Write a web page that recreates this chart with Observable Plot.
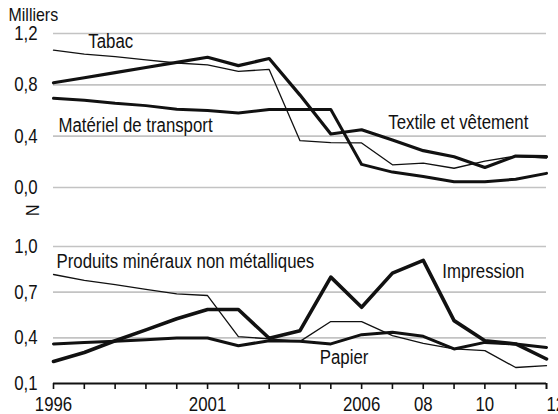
<!DOCTYPE html>
<html>
<head>
<meta charset="utf-8">
<script src="https://cdn.jsdelivr.net/npm/d3@7"></script>
<script src="https://cdn.jsdelivr.net/npm/@observablehq/plot@0.6"></script>
<style>
  html, body { margin: 0; padding: 0; background: #fff; }
  #chart { position: relative; width: 558px; height: 414px; overflow: hidden; }
  #top, #bottom { position: absolute; left: 0; }
  #top { top: 0; }
  #bottom { top: 215px; }
</style>
</head>
<body>
<div id="chart"><div id="top"></div><div id="bottom"></div></div>
<script>
// ---- Data ----
const years = [1996,1997,1998,1999,2000,2001,2002,2003,2004,2005,2006,2007,2008,2009,2010,2011,2012];

// Top panel (milliers)
const tabac     = [1.07,1.04,1.02,0.995,0.97,0.955,0.905,0.92,0.365,0.35,0.347,0.177,0.19,0.15,0.205,0.245,0.23];
const textile   = [0.816,0.855,0.895,0.935,0.975,1.015,0.95,1.005,0.72,0.417,0.45,0.37,0.287,0.24,0.156,0.245,0.24];
const transport = [0.695,0.68,0.656,0.638,0.61,0.6,0.58,0.607,0.607,0.607,0.18,0.12,0.086,0.045,0.045,0.065,0.11];

// Bottom panel (milliers)
const mineraux   = [0.816,0.777,0.749,0.718,0.689,0.678,0.408,0.393,0.377,0.507,0.507,0.414,0.364,0.327,0.316,0.205,0.217];
const impression = [0.245,0.304,0.381,0.452,0.525,0.586,0.586,0.397,0.447,0.799,0.601,0.825,0.909,0.513,0.381,0.36,0.261];
const papier     = [0.36,0.37,0.377,0.388,0.399,0.399,0.348,0.381,0.377,0.36,0.421,0.436,0.41,0.327,0.37,0.36,0.337];

// Tick values and labels
const topTicks = [0, 0.4, 0.8, 1.2];
const bottomTicks = [0.1, 0.4, 0.7, 1.0];
const bottomGrid = [0.4, 0.7, 1.0];
const xTickYears = [1996, 2001, 2006, 2008, 2010, 2012];
const xTickLabels = ["1996", "2001", "2006", "08", "10", "12"];
const unitLabel = "Milliers";
const breakSymbol = "N";

// Series label texts
const seriesNames = ["Tabac", "Matériel de transport", "Textile et vêtement",
                     "Produits minéraux non métalliques", "Impression", "Papier"];

// ---- Drawing ----
const font = '"Liberation Sans Narrow","Arial Narrow","Liberation Sans",Arial,sans-serif';
const ink = "#111";
const gridColor = "#c3c3c3";
const fmt = d => d.toFixed(1).replace(".", ",");
const rows = vals => years.map((year, i) => ({year, value: vals[i]}));
const label = (vals, year, text, dx, dy) =>
  Plot.text([{year, value: vals[years.indexOf(year)]}], {
    x: "year", y: "value", text: () => text, dx, dy,
    textAnchor: "start", lineAnchor: "bottom", fontSize: 20, fill: ink
  });
const line = (vals, w) => Plot.line(rows(vals), {x: "year", y: "value", stroke: ink, strokeWidth: w, strokeLinejoin: "round"});

const topPlot = Plot.plot({
  width: 558, height: 215,
  marginLeft: 53, marginRight: 12, marginTop: 33, marginBottom: 28,
  style: {fontFamily: font, background: "transparent", overflow: "visible", color: ink},
  x: {domain: [1996, 2012], axis: null},
  y: {domain: [0, 1.2]},
  marks: [
    Plot.gridY(topTicks, {stroke: gridColor, strokeOpacity: 1, strokeWidth: 1.6}),
    Plot.axisY(topTicks, {tickSize: 0, tickPadding: 16, tickFormat: fmt, fontSize: 20, label: null}),
    Plot.text([unitLabel], {frameAnchor: "top-left", dx: -45, dy: -12.5, textAnchor: "start", lineAnchor: "bottom", fontSize: 19, fill: ink}),
    Plot.text([breakSymbol], {frameAnchor: "bottom-left", dx: -28, dy: 17, rotate: 90, fontSize: 19, fill: ink}),
    line(tabac, 1.3),
    line(transport, 3),
    line(textile, 3.2),
    label(tabac, 1997, seriesNames[0], 4, -6),
    label(transport, 1996, seriesNames[1], 5, 34),
    label(textile, 2008, seriesNames[2], -35, -21.6)
  ]
});

const bottomPlot = Plot.plot({
  width: 558, height: 199,
  marginLeft: 53, marginRight: 12, marginTop: 31, marginBottom: 31,
  style: {fontFamily: font, background: "transparent", overflow: "visible", color: ink},
  x: {domain: [1996, 2012]},
  y: {domain: [0.1, 1.0]},
  marks: [
    Plot.gridY(bottomGrid, {stroke: gridColor, strokeOpacity: 1, strokeWidth: 1.6}),
    Plot.axisY(bottomTicks, {tickSize: 0, tickPadding: 16, tickFormat: fmt, fontSize: 20, label: null}),
    Plot.axisX(years, {
      tickSize: 6, tickPadding: 7, fontSize: 20, stroke: ink, strokeWidth: 1.6, label: null,
      tickFormat: d => (d === 2012 ? "" : (xTickLabels[xTickYears.indexOf(d)] ?? ""))
    }),
    Plot.axisX([2012], {
      tickSize: 6, tickPadding: 7, fontSize: 20, stroke: ink, strokeWidth: 1.6, label: null,
      textAnchor: "start", tickFormat: d => xTickLabels[xTickYears.indexOf(d)]
    }),
    Plot.ruleY([0.1], {stroke: ink, strokeWidth: 2}),
    line(mineraux, 1.3),
    line(papier, 3),
    line(impression, 3.6),
    label(mineraux, 1996, seriesNames[3], 3, -6.6),
    label(impression, 2008, seriesNames[4], 19, 18),
    label(papier, 2005, seriesNames[5], -11, 19.6)
  ]
});

document.getElementById("top").append(topPlot);
document.getElementById("bottom").append(bottomPlot);

// The reference uses a narrow sans face; compress the installed sans horizontally.
function condense(svg, k) {
  svg.querySelectorAll("text").forEach(t => {
    const spans = t.querySelectorAll("tspan");
    const targets = spans.length ? Array.from(spans) : [t];
    targets.forEach(el => {
      const len = el.getComputedTextLength();
      if (len > 0) {
        el.setAttribute("textLength", (len * k).toFixed(2));
        el.setAttribute("lengthAdjust", "spacingAndGlyphs");
      }
    });
  });
}
condense(topPlot, 0.84);
condense(bottomPlot, 0.84);
</script>
</body>
</html>
